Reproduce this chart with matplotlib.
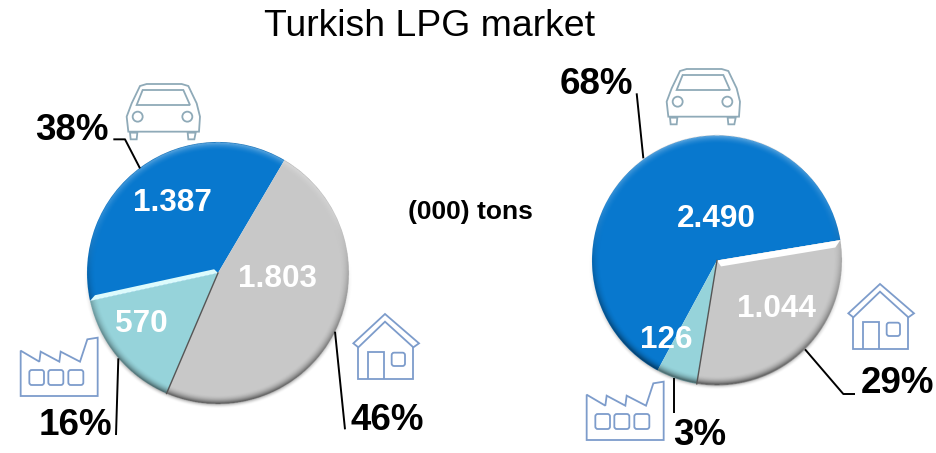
import numpy as np
import matplotlib
matplotlib.use("Agg")
import matplotlib.pyplot as plt
from matplotlib.patches import Polygon, Circle, FancyBboxPatch

plt.rcParams['font.family'] = ['Liberation Sans', 'DejaVu Sans']

TITLE = "Turkish LPG market"
UNIT = "(000) tons"
COLORS = ['#0878CE', '#96D3DA', '#C8C8C8']

left_values = [1387, 570, 1803]
left_value_labels = ['1.387', '570', '1.803']
left_percent_labels = ['38%', '16%', '46%']

# Slice shares (the drawn right pie differs from its labels)
right_shares = [64.5, 5.3, 30.2]
right_value_labels = ['2.490', '126', '1.044']
right_percent_labels = ['68%', '3%', '29%']

W, H = 937, 453
fig = plt.figure(figsize=(W / 100, H / 100), dpi=100)
ax = fig.add_axes([0, 0, 1, 1])


def Y(py):
    return H - py


def bevel(cx, cy, R):
    n = int(2 * R + 24)
    xs = np.linspace(cx - R - 12, cx + R + 12, n * 2)
    ys = np.linspace(cy - R - 12, cy + R + 12, n * 2)
    X, YY = np.meshgrid(xs, ys)
    dx, dy = X - cx, YY - cy
    r = np.hypot(dx, dy)
    up = dy / np.maximum(r, 1e-6)   # +1 on top, -1 at the bottom
    d = R - r
    img = np.zeros(X.shape + (4,))
    width = 9.0
    strength = np.clip(1 - d / width, 0, 1) ** 2 * (d >= 0)
    dark = strength * np.clip(0.18 - up * 0.42, 0, 0.62)
    light = strength * np.clip(up * 0.38, 0, 0.38)
    light = light * (up > 0)
    a = dark + light
    img[..., :3] = (light / np.maximum(a, 1e-6))[..., None]
    img[..., 3] = a
    # soft shadow outside the lower rim
    out = (d < 0) & (d > -5)
    img[out, :3] = 0
    img[out, 3] = (np.clip((1 + d[out] / 5), 0, 1) ** 2 * np.clip(-up[out] + 0.1, 0, 1) * 0.35)
    ax.imshow(img, extent=(xs[0], xs[-1], ys[0], ys[-1]), origin='lower',
              zorder=3, interpolation='bilinear', aspect='equal')


def edge_strip(cx, cy, R, angle, color, w, side=-1):
    t = np.deg2rad(angle)
    u = np.array([np.cos(t), np.sin(t)])
    nrm = side * np.array([-u[1], u[0]])
    c = np.array([cx, cy])
    k = np.sqrt(max(R ** 2 - w ** 2, 1))
    pts = [c, c + u * R, c + u * (k - 6) + nrm * w, c + u * 3 + nrm * w]
    ax.add_patch(Polygon(pts, closed=True, fc=color, ec='none', zorder=4))


def pie(values, start, cx, cy, R):
    ax.pie(values, colors=COLORS, startangle=start, counterclock=True,
           center=(cx, Y(cy)), radius=R, frame=True,
           wedgeprops=dict(linewidth=0))
    bevel(cx, Y(cy), R)
    f = np.array(values, dtype=float)
    return start + np.cumsum(f) / f.sum() * 360


# Left pie
a = pie(left_values, 59.5, 218, 273, 131)
edge_strip(218, Y(273), 131, a[0], '#DDFBFC', 4.5)
t = np.deg2rad(a[1])
ax.plot([218, 218 + 131 * np.cos(t)], [Y(273), Y(273) + 131 * np.sin(t)],
        color='#555555', lw=1.0, zorder=4)

# Right pie
b = pie(right_shares, 9.4, 717, 260.5, 125)
edge_strip(717, Y(260.5), 125, b[2], '#FFFFFF', 6.5, side=-1)
t = np.deg2rad(b[1])
ax.plot([717, 717 + 125 * np.cos(t)], [Y(260.5), Y(260.5) + 125 * np.sin(t)],
        color='#555555', lw=1.0, zorder=4)


# Icons (drawn from zoom-scale templates)
def zp(points, ox=0, oy=0):
    return [(x / 3 + ox, Y((y / 3) + 60 + oy)) for x, y in points]


CAR = '#8FAAB8'
ICON = '#7D9CCB'


def car(ox, oy):
    kw = dict(fc='none', ec=CAR, lw=1.3, zorder=5)
    ax.add_patch(Polygon(zp([(385, 215), (380, 170), (395, 130), (420, 78), (440, 72), (545, 72),
                             (565, 78), (590, 130), (600, 170), (597, 215)], ox, oy), **kw))
    ax.add_patch(Polygon(zp([(410, 135), (428, 90), (550, 90), (570, 135)], ox, oy), **kw))
    ax.add_patch(Polygon(zp([(390, 218), (392, 238), (410, 238), (412, 218)], ox, oy), **kw))
    ax.add_patch(Polygon(zp([(563, 218), (565, 238), (583, 238), (587, 218)], ox, oy), **kw))
    for x in (413, 562):
        cxy = zp([(x, 170)], ox, oy)[0]
        ax.add_patch(Circle(cxy, 5, **kw))


def rrect(x0, y0, x1, y1, ox, oy, color=ICON):
    (a0, b0), (a1, b1) = zp([(x0, y1), (x1, y0)], ox, oy)
    ax.add_patch(FancyBboxPatch((a0 + 1.5, b0 + 1.5), a1 - a0 - 3, b1 - b0 - 3,
                                boxstyle='round,pad=1.5,rounding_size=2.5',
                                fc='none', ec=color, lw=1.3, zorder=5))


def factory(ox, oy):
    ax.add_patch(Polygon(zp([(62, 1008), (62, 872), (118, 905), (122, 875), (178, 905), (182, 875),
                             (240, 905), (262, 838), (293, 833), (293, 1008)], ox, oy),
                         fc='none', ec=ICON, lw=1.3, zorder=5))
    for x0, x1 in ((88, 132), (145, 190), (205, 250)):
        rrect(x0, 930, x1, 975, ox, oy)


def house(ox, oy):
    kw = dict(fc='none', ec=ICON, lw=1.3, zorder=5)
    ax.add_patch(Polygon(zp([(1060, 850), (1155, 762), (1257, 850), (1240, 862), (1155, 785),
                             (1075, 862)], ox, oy), **kw))
    ax.add_patch(Polygon(zp([(1075, 862), (1075, 958), (1238, 958), (1238, 862)], ox, oy),
                         closed=False, **kw))
    ax.add_patch(Polygon(zp([(1103, 958), (1103, 875), (1153, 875), (1153, 958)], ox, oy),
                         closed=False, **kw))
    rrect(1175, 878, 1215, 918, ox, oy)


car(0, 0); factory(0, 0); house(0, 0)
car(540, -15); factory(566, 44); house(495, -30)


# Leader lines
def leader(points, ox=0):
    p = zp(points, ox)
    ax.plot([q[0] for q in p], [q[1] for q in p], color='black', lw=1.4, zorder=5,
            solid_capstyle='butt')


leader([(340, 238), (375, 238), (420, 325)])
leader([(348, 1125), (355, 895)])
leader([(1035, 1108), (1005, 815)])
leader([(350, 100), (370, 295)], 520)
leader([(463, 1060), (463, 955)], 520)
leader([(1005, 1002), (970, 1002), (855, 868)], 520)


# Text, placed by baseline
def txt(x, y, s, size, color='black', weight='bold'):
    ax.text(x, Y(y), s, fontsize=size, color=color, fontweight=weight,
            ha='center', va='baseline', zorder=6)


txt(430, 36, TITLE, 26.9, weight='normal')
txt(470.5, 219, UNIT, 19)

for (x, y), s in zip([(172, 211), (141, 332), (277, 287)], left_value_labels):
    txt(x, y, s, 22.7, 'white')
for (x, y), s in zip([(716, 227), (666, 348), (776, 317)], right_value_labels):
    txt(x, y, s, 22.7, 'white')
for (x, y), s in zip([(72, 140), (75, 435), (387, 430)], left_percent_labels):
    txt(x, y, s, 26.5)
for (x, y), s in zip([(596, 94), (700, 445), (898, 393)], right_percent_labels):
    txt(x, y, s, 26.5)

ax.set_xlim(0, W)
ax.set_ylim(0, H)
ax.set_aspect('auto')
ax.axis('off')
fig.savefig('out.png', dpi=100, facecolor='white')
